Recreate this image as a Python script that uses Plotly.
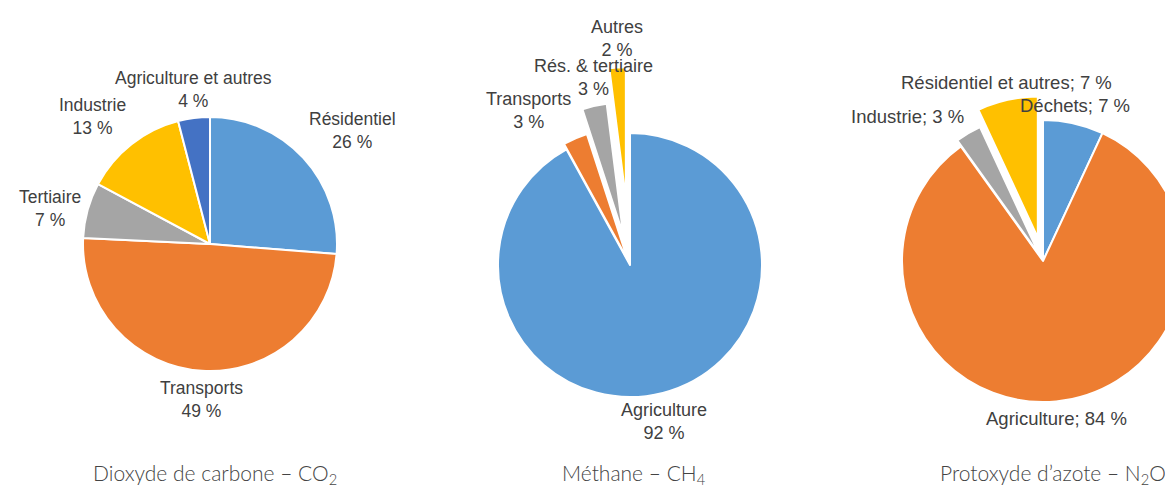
import math
import plotly.graph_objects as go

# ---- data ----
co2_labels = ["Résidentiel", "Transports", "Tertiaire", "Industrie", "Agriculture et autres"]
co2_values = [26, 49, 7, 13, 4]
co2_colors = ["#5B9BD5", "#ED7D31", "#A5A5A5", "#FFC000", "#4472C4"]
co2_pull = [0, 0, 0, 0, 0]

ch4_labels = ["Agriculture", "Transports", "Rés. & tertiaire", "Autres"]
ch4_values = [92, 3, 3, 2]
ch4_colors = ["#5B9BD5", "#ED7D31", "#A5A5A5", "#FFC000"]
ch4_pull = [0, 0.045, 0.235, 0.5]

n2o_labels = ["Déchets", "Agriculture", "Industrie", "Résidentiel et autres"]
n2o_values = [7, 84, 3, 7]
n2o_colors = ["#5B9BD5", "#ED7D31", "#A5A5A5", "#FFC000"]
n2o_pull = [0, 0, 0.05, 0.17]

titles = ["Dioxyde de carbone – CO<sub>2</sub>", "Méthane – CH<sub>4</sub>",
          "Protoxyde d’azote – N<sub>2</sub>O"]

# ---- geometry (page pixels; the page body adds an 8px offset) ----
OFF = 8
W, H = 1210, 479

LAB_FONT = "Liberation Sans, Arial, sans-serif"
LAB_COLOR = "#404040"

fig = go.Figure()


def px_x(x):
    return (x - OFF) / W


def px_y(y):
    return 1 - (y - OFF) / H


def add_pie(labels, values, colors, pulls, cx, cy, r, gap, sep, size):
    half = r * (1 + max(pulls))
    fig.add_trace(go.Pie(
        labels=labels, values=values, sort=False, direction="clockwise", rotation=0,
        pull=pulls, automargin=False, textinfo="none",
        marker=dict(colors=colors, line=dict(color="white", width=2)),
        domain=dict(x=[px_x(cx - half), px_x(cx + half)],
                    y=[px_y(cy + half), px_y(cy - half)]),
        showlegend=False, hoverinfo="label+percent"))
    total = sum(values)
    cum = 0
    for lab, v, p in zip(labels, values, pulls):
        mid = math.radians((cum + v / 2) / total * 360)
        cum += v
        ux, uy = math.sin(mid), -math.cos(mid)
        R = r * (1 + p) + gap
        lx, ly = cx + R * ux, cy + R * uy
        xa = "left" if ux > 0.3 else ("right" if ux < -0.3 else "center")
        ya = "bottom" if uy < -0.3 else ("top" if uy > 0.3 else "middle")
        fig.add_annotation(x=px_x(lx), y=px_y(ly), xref="paper", yref="paper",
                           text=f"{lab}{sep}{v} %", showarrow=False,
                           xanchor=xa, yanchor=ya, align="center",
                           font=dict(family=LAB_FONT, size=size, color=LAB_COLOR))


add_pie(co2_labels, co2_values, co2_colors, co2_pull, 210, 244, 127, 5, "<br>", 17.5)
add_pie(ch4_labels, ch4_values, ch4_colors, ch4_pull, 630, 265, 132, 5, "<br>", 18)
add_pie(n2o_labels, n2o_values, n2o_colors, n2o_pull, 1043, 261, 141, 5, "; ", 18.5)

for x, t, anchor in [(215, titles[0], "center"), (634, titles[1], "center"), (938, titles[2], "left")]:
    fig.add_annotation(x=px_x(x), y=px_y(474), xref="paper", yref="paper", text=t,
                       showarrow=False, xanchor=anchor, yanchor="middle",
                       font=dict(family="Lato, Noto Sans, sans-serif", size=21,
                                 color="#444444", weight=300))

fig.update_layout(width=W, height=H, margin=dict(l=0, r=0, t=0, b=0, autoexpand=False),
                  paper_bgcolor="white", plot_bgcolor="white")

fig.write_html("out.html")
